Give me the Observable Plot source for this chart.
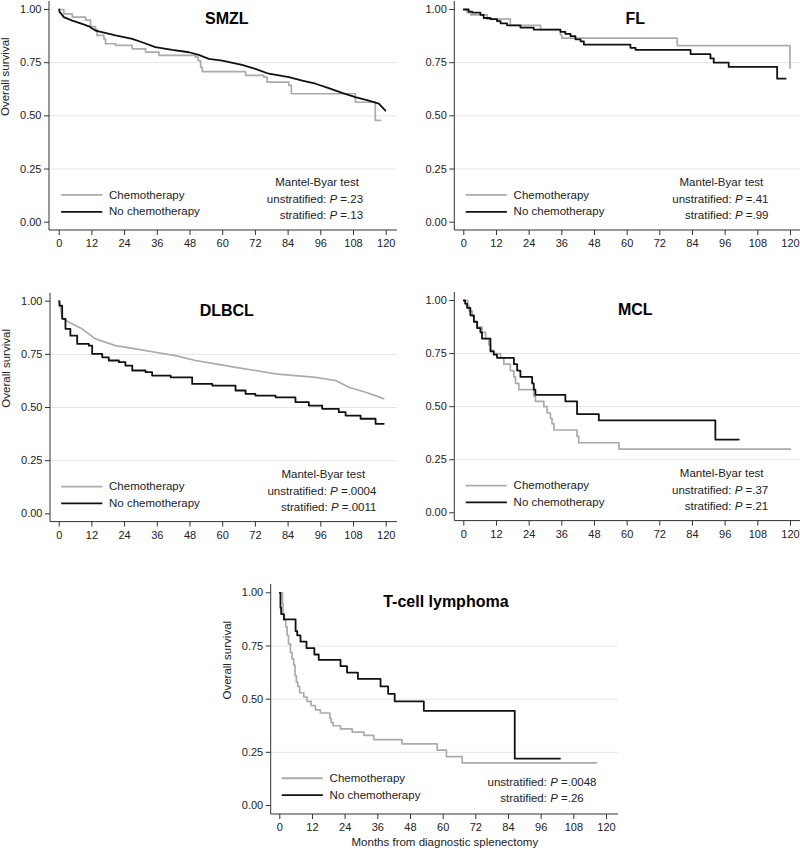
<!DOCTYPE html>
<html><head><meta charset="utf-8">
<script src="https://cdn.jsdelivr.net/npm/d3@7"></script>
<script src="https://cdn.jsdelivr.net/npm/@observablehq/plot@0.6"></script>
<style>
body{margin:0;background:#fff;}
#chart{position:relative;width:800px;height:853px;}
#chart svg{position:absolute;}
</style></head><body><div id="chart"></div>
<script>
// ---- tick labels & categories ----
const monthTicks = [0,12,24,36,48,60,72,84,96,108,120];
const survivalTicks = [0,0.25,0.5,0.75,1];
const gridTicks = [0.25,0.5,0.75];
const seriesNames = ["Chemotherapy","No chemotherapy"];
const panelTitles = ["SMZL","FL","DLBCL","MCL","T-cell lymphoma"];
const pUnstratified = [".23",".41",".0004",".37",".0048"];
const pStratified = [".13",".99",".0011",".21",".26"];

// ---- series values: [month, overall survival] ----
const smzlChemo = [[0,1],[1.7,0.979],[4.8,0.964],[9.7,0.95],[11.5,0.92],[13.3,0.907],[13.9,0.878],[16.4,0.862],[17,0.839],[20.7,0.831],[26.8,0.815],[31.7,0.8],[36.6,0.784],[50,0.776],[51,0.76],[51.9,0.729],[52.5,0.708],[68.4,0.69],[75.1,0.682],[76.3,0.659],[84.3,0.643],[85.2,0.604],[108.7,0.564],[116,0.479],[117.9,0.479]];
const smzlNoChemo = [[0,1],[0.1,0.99],[1.7,0.964],[4.8,0.948],[8.4,0.932],[10.9,0.921],[13.3,0.901],[14.5,0.897],[20.7,0.878],[26.8,0.862],[30.4,0.846],[35.3,0.823],[41.5,0.81],[47.6,0.799],[51.2,0.787],[54.9,0.768],[59.8,0.76],[67.1,0.74],[72,0.721],[76.9,0.698],[84.3,0.682],[89.2,0.666],[94.1,0.651],[98.9,0.63],[103.8,0.608],[108.7,0.588],[113.6,0.572],[117.3,0.557],[119.7,0.525]];

const flChemo = [[0,1],[1.2,0.985],[2.5,0.975],[8.6,0.955],[17.1,0.925],[28.2,0.905],[35.5,0.88],[36,0.865],[78.4,0.83],[119.8,0.725]];
const flNoChemo = [[0,1],[1.8,0.99],[3.1,0.985],[6.1,0.975],[7.3,0.96],[9.8,0.955],[12.2,0.945],[13.5,0.935],[15.9,0.925],[20.8,0.915],[25.7,0.905],[35.5,0.895],[37.3,0.885],[39.2,0.875],[41,0.86],[42.9,0.85],[44.1,0.835],[61.2,0.82],[63.1,0.81],[83.3,0.79],[90.6,0.77],[91.8,0.75],[97.3,0.73],[115.1,0.675],[118.2,0.675]];

const dlbclChemo = [[0,1],[0.1,0.995],[1.1,0.924],[3.5,0.901],[8.4,0.87],[13.3,0.823],[20.7,0.791],[28,0.776],[35.3,0.76],[42.7,0.744],[50,0.721],[57.4,0.705],[64.7,0.689],[72,0.674],[79.4,0.658],[86.7,0.65],[94.1,0.642],[101.4,0.627],[106.3,0.595],[112.4,0.572],[116.1,0.556],[119.1,0.541]];
const dlbclNoChemo = [[0,1],[0.1,0.979],[1.1,0.917],[2.3,0.87],[4.1,0.838],[6.6,0.799],[10.9,0.791],[12.1,0.752],[15.8,0.736],[18.2,0.721],[21.9,0.713],[24.3,0.697],[26.8,0.674],[31.7,0.666],[34.1,0.65],[40.9,0.642],[48.8,0.611],[56.2,0.603],[64.7,0.58],[68.4,0.564],[72,0.556],[79.4,0.548],[86.7,0.525],[91.6,0.509],[96.5,0.494],[102.6,0.478],[105.1,0.462],[110.6,0.447],[116.1,0.423],[119.1,0.423]];

const mclChemo = [[0,1],[1.5,0.975],[2,0.95],[3.1,0.925],[3.7,0.9],[4.9,0.875],[6.7,0.85],[8,0.82],[9.2,0.79],[9.8,0.765],[11,0.75],[13.5,0.73],[14.7,0.7],[17.1,0.67],[18.4,0.64],[19,0.61],[20.2,0.58],[25.7,0.55],[26.3,0.525],[29.4,0.5],[30.6,0.47],[31.8,0.445],[32.4,0.42],[33.1,0.39],[41.6,0.36],[42.2,0.33],[57,0.3],[120,0.3]];
const mclNoChemo = [[0,1],[0.5,0.985],[1.2,0.965],[2.4,0.93],[3.7,0.9],[4.9,0.87],[6.1,0.85],[6.7,0.82],[9.8,0.76],[11,0.745],[12.2,0.73],[18.4,0.7],[19.6,0.67],[20.8,0.64],[25.1,0.61],[25.7,0.58],[26.3,0.555],[37.3,0.525],[41.6,0.465],[49.6,0.435],[92.4,0.345],[101,0.345]];

const tcellChemo = [[0,1],[1,0.95],[1.2,0.9],[1.7,0.87],[2.2,0.84],[2.7,0.8],[3.2,0.76],[3.9,0.72],[4.5,0.69],[5.1,0.66],[5.6,0.61],[6.1,0.58],[6.6,0.56],[7.3,0.53],[8.8,0.51],[10,0.49],[11.5,0.47],[13.1,0.45],[14.9,0.435],[18.4,0.41],[18.9,0.39],[19.6,0.375],[22.3,0.36],[26.6,0.345],[30.9,0.33],[34.5,0.31],[44.9,0.29],[57.8,0.26],[61.2,0.23],[67,0.2],[116.3,0.2]];
const tcellNoChemo = [[0,1],[0.24,0.93],[0.5,0.9],[1.5,0.875],[5.8,0.82],[6.4,0.8],[7.6,0.77],[9.8,0.74],[12.7,0.71],[14.3,0.685],[22.3,0.655],[24.7,0.625],[28.7,0.595],[37,0.56],[39.8,0.525],[42.2,0.49],[52.9,0.445],[86.3,0.22],[102.9,0.22]];

// ---- styles & layout ----
const GRAY = "#ababab", BLACK = "#111", INK = "#222", AXIS = "#333";
const FONT = "'Liberation Sans', Arial, sans-serif";

const panels = [
  {title:0, chemo:smzlChemo, noChemo:smzlNoChemo, curves:["step-after","linear"],
   left:0, top:0, width:400, height:260, mL:49, mR:3, mT:1, mB:30, iL:9.7, iR:11.3, iT:8, iB:8.3,
   yLabel:true, xLabel:false, header:true, titleX:61.5, mbX:94.8, pX:111.7, pAnchor:"end"},
  {title:1, chemo:flChemo, noChemo:flNoChemo, curves:["step-after","step-after"],
   left:400, top:0, width:400, height:260, mL:54.3, mR:0, mT:1, mB:30, iL:9, iR:10, iT:8, iB:8.3,
   yLabel:false, xLabel:false, header:true, titleX:63, mbX:94.8, pX:112.1, pAnchor:"end"},
  {title:2, chemo:dlbclChemo, noChemo:dlbclNoChemo, curves:["linear","step-after"],
   left:0, top:280, width:400, height:280, mL:50, mR:3, mT:12.7, mB:38.4, iL:8.7, iR:11.3, iT:8, iB:8.3,
   yLabel:true, xLabel:false, header:true, titleX:61.5, mbX:97.1, pX:116.6, pAnchor:"end"},
  {title:3, chemo:mclChemo, noChemo:mclNoChemo, curves:["step-after","step-after"],
   left:400, top:280, width:400, height:280, mL:54.3, mR:0, mT:12, mB:39.4, iL:9, iR:10, iT:8, iB:8.3,
   yLabel:false, xLabel:false, header:true, titleX:63, mbX:94.9, pX:112, pAnchor:"end"},
  {title:4, chemo:tcellChemo, noChemo:tcellNoChemo, curves:["step-after","step-after"],
   left:200, top:560, width:420, height:293, mL:70.7, mR:2, mT:24, mB:39, iL:8.6, iR:12, iT:8.3, iB:9,
   yLabel:true, xLabel:true, header:false, titleX:61, mbX:96.5, pX:96.5, pAnchor:"middle"}
];

const axisLines = (index, scales, values, d) =>
  d3.create("svg:path").attr("fill","none").attr("stroke",AXIS).attr("stroke-width",1)
    .attr("d", `M${d.marginLeft},${d.marginTop}V${d.height-d.marginBottom}H${d.width-d.marginRight}`).node();

function statsMark(L, pu, ps) {
  return (index, scales) => {
    const g = d3.create("svg:g").attr("fill", INK).attr("font-size", 11.5).attr("font-family", FONT);
    if (L.header) g.append("text").attr("x", scales.x(L.mbX)).attr("y", scales.y(0.187))
      .attr("dy","0.35em").attr("text-anchor","middle").text("Mantel-Byar test");
    [["unstratified: ", pu, 0.106], ["stratified: ", ps, 0.031]].forEach(([lab, p, yy]) => {
      const t = g.append("text").attr("x", scales.x(L.pX)).attr("y", scales.y(yy))
        .attr("dy","0.35em").attr("text-anchor", L.pAnchor);
      t.append("tspan").text(lab);
      t.append("tspan").attr("font-style","italic").text("P");
      t.append("tspan").text(" =" + p);
    });
    return g.node();
  };
}

const legendRows = [
  {name: seriesNames[0], y: 0.128, color: GRAY},
  {name: seriesNames[1], y: 0.049, color: BLACK}
];

const chart = document.getElementById("chart");
panels.forEach((L, k) => {
  const marks = [
    Plot.gridY(gridTicks, {stroke: "#e6e6e6", strokeOpacity: 1, strokeWidth: 1}),
    axisLines,
    Plot.axisX({ticks: monthTicks, tickSize: 5, tickPadding: 4, tickFormat: d => String(d), label: null, stroke: AXIS, fill: INK, fontSize: 11}),
    Plot.axisY({ticks: survivalTicks, tickSize: 5, tickPadding: 3, tickFormat: d3.format(".2f"), label: null, stroke: AXIS, fill: INK, fontSize: 11}),
    Plot.line(L.chemo, {x: d => d[0], y: d => d[1], curve: L.curves[0], stroke: GRAY, strokeWidth: 1.7}),
    Plot.line(L.noChemo, {x: d => d[0], y: d => d[1], curve: L.curves[1], stroke: BLACK, strokeWidth: 1.8}),
    Plot.ruleY(legendRows, {y: "y", x1: () => 0.9, x2: () => 16, stroke: "color", strokeWidth: 1.8}),
    Plot.text(legendRows, {x: () => 18.3, y: "y", text: "name", textAnchor: "start", fontSize: 11.5, fill: INK}),
    Plot.text([panelTitles[L.title]], {x: () => L.titleX, y: () => 0.955, text: d => d, fontSize: 16, fontWeight: "bold", fill: "#000"}),
    statsMark(L, pUnstratified[k], pStratified[k])
  ];
  if (L.yLabel) marks.push(Plot.text(["Overall survival"], {frameAnchor: "left", rotate: -90, dx: -44, text: d => d, fontSize: 11.5, fill: INK}));
  if (L.xLabel) marks.push(Plot.text(["Months from diagnostic splenectomy"], {frameAnchor: "bottom", dy: 31.7, text: d => d, fontSize: 11.5, fill: INK}));
  const svg = Plot.plot({
    width: L.width, height: L.height,
    marginLeft: L.mL, marginRight: L.mR, marginTop: L.mT, marginBottom: L.mB,
    insetLeft: L.iL, insetRight: L.iR, insetTop: L.iT, insetBottom: L.iB,
    style: {background: "none", fontFamily: FONT, fontSize: "11px", color: INK, overflow: "visible"},
    x: {domain: [0, 120]},
    y: {domain: [0, 1]},
    marks
  });
  svg.style.left = L.left + "px";
  svg.style.top = L.top + "px";
  svg.style.position = "absolute";
  svg.style.maxWidth = "none";
  chart.appendChild(svg);
});
</script>
</body></html>
